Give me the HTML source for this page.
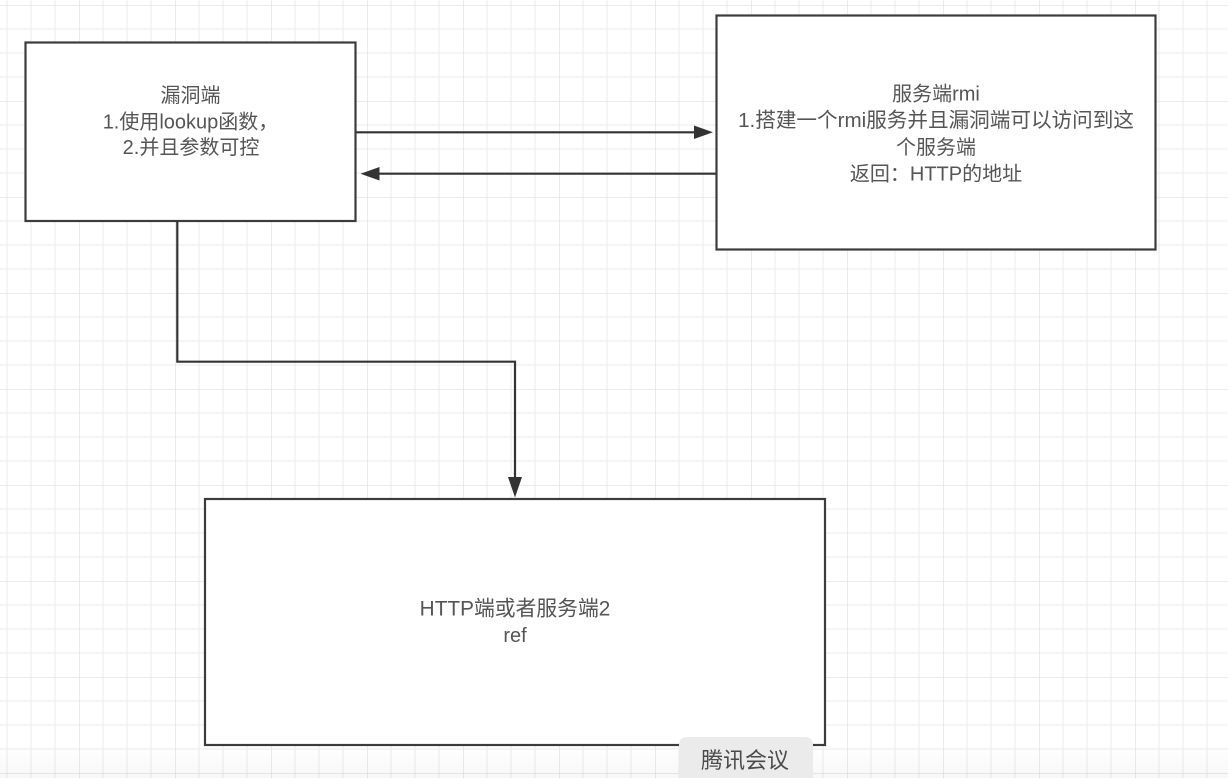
<!DOCTYPE html>
<html>
<head>
<meta charset="utf-8">
<style>
html,body{margin:0;padding:0;background:#fff;}
body{width:1228px;height:778px;overflow:hidden;position:relative;}
svg{display:block;}
text{font-family:"Liberation Sans","Noto Sans CJK SC",sans-serif;}
</style>
</head>
<body>
<svg width="1228" height="778" viewBox="0 0 1228 778" xmlns="http://www.w3.org/2000/svg">
  <defs>
    <pattern id="grid" patternUnits="userSpaceOnUse" x="79" y="5" width="96" height="96">
      <rect width="96" height="96" fill="#ffffff"/>
      <g stroke="#efefef" stroke-width="1.2">
        <line x1="24" y1="0" x2="24" y2="96"/>
        <line x1="48" y1="0" x2="48" y2="96"/>
        <line x1="72" y1="0" x2="72" y2="96"/>
        <line x1="0" y1="24" x2="96" y2="24"/>
        <line x1="0" y1="48" x2="96" y2="48"/>
        <line x1="0" y1="72" x2="96" y2="72"/>
      </g>
      <g stroke="#e3e3e3" stroke-width="1.4">
        <line x1="0" y1="0" x2="0" y2="96"/>
        <line x1="0" y1="0" x2="96" y2="0"/>
      </g>
    </pattern>
    <linearGradient id="bot" x1="0" y1="0" x2="0" y2="1">
      <stop offset="0" stop-color="#000" stop-opacity="0"/>
      <stop offset="1" stop-color="#000" stop-opacity="0.03"/>
    </linearGradient>
  </defs>

  <rect x="0" y="0" width="1228" height="778" fill="url(#grid)"/>
  <rect x="0" y="745" width="1228" height="33" fill="url(#bot)"/>

  <!-- Boxes -->
  <g fill="#ffffff" stroke="#3c3c3c" stroke-width="2.2">
    <rect x="25.5" y="42.5" width="330" height="178.5"/>
    <rect x="716.5" y="15.5" width="439" height="234"/>
    <rect x="205" y="499" width="620" height="246"/>
  </g>

  <!-- Connectors -->
  <g stroke="#333" stroke-width="2.2" fill="none">
    <line x1="356" y1="132.3" x2="696" y2="132.3"/>
    <line x1="716" y1="173.7" x2="378" y2="173.7"/>
    <polyline points="177.3,221 177.3,361.7 515,361.7 515,479"/>
  </g>
  <g fill="#333">
    <polygon points="713,132.3 694,125.5 694,139"/>
    <polygon points="360.5,173.7 379.5,167 379.5,180.5"/>
    <polygon points="515,497.5 508,477 522,477"/>
  </g>

  <!-- Labels -->
  <g font-size="20" fill="#555555" text-anchor="middle">
    <text x="190.5" y="102">漏洞端</text>
    <text x="190.5" y="128.5">1.使用lookup函数，</text>
    <text x="191" y="154">2.并且参数可控</text>

    <text x="936" y="100.5">服务端rmi</text>
    <text x="936" y="127" font-size="20.6">1.搭建一个rmi服务并且漏洞端可以访问到这</text>
    <text x="936" y="154">个服务端</text>
    <text x="936" y="180.5">返回：HTTP的地址</text>

    <text x="515" y="615.5" font-size="20.8">HTTP端或者服务端2</text>
    <text x="515" y="642">ref</text>
  </g>

  <!-- Tencent meeting pill -->
  <path d="M679,778 L679,745 Q679,737 687,737 L805,737 Q813,737 813,745 L813,778 Z" fill="#ebebeb"/>
  <text x="745" y="768" font-size="22" fill="#4a4a4a" text-anchor="middle">腾讯会议</text>
</svg>
</body>
</html>
